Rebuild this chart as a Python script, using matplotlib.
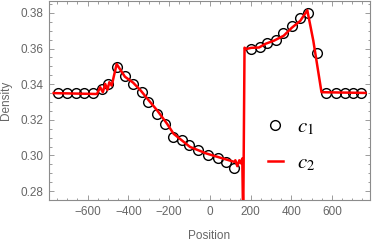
import matplotlib
matplotlib.use("Agg")
import matplotlib.pyplot as plt
from matplotlib.ticker import MultipleLocator
from matplotlib.lines import Line2D

plt.rcParams['font.family'] = ['Liberation Sans', 'DejaVu Sans']
plt.rcParams['mathtext.fontset'] = 'stix'

# c1: sampled circles (position, density)
c1_x = [-745.5, -703.3, -659.6, -619.4, -575.8, -530, -498, -457.6, -417, -377,
        -331.6, -304, -259, -221, -182, -138, -102, -57, -9, 39.7, 80.5, 120.7,
        161, 201.6, 246.7, 280.7, 324.3, 358.2, 401.8, 445.4, 481, 524.5,
        573, 618.5, 662, 702.4, 742.6]
c1_y = [0.335, 0.335, 0.335, 0.335, 0.335, 0.3374, 0.3402, 0.3494, 0.3448, 0.3402,
        0.3355, 0.3299, 0.3234, 0.3179, 0.3104, 0.3085, 0.3057, 0.3029, 0.3001, 0.2983,
        0.2964, 0.2927, 0.27, 0.3597, 0.3606, 0.3629, 0.3649, 0.3687, 0.3727, 0.377,
        0.3798, 0.3573, 0.3351, 0.3351, 0.3351, 0.3351, 0.3351]

# c2: fine-resolution profile
c2_x = [-767, -554.5, -538.5, -525.5, -514, -503, -493.5, -482, -457.6, -417, -377,
        -339, -299, -258.6, -210, -178, -97.4, -16.5, 64, 120.7, 125.5, 135, 145,
        152, 159.5, 164, 170.6, 177.4, 203, 242, 274, 314.6, 363, 402, 444, 479,
        508.5, 548.7, 765]
c2_y = [0.335, 0.3345, 0.3383, 0.3355, 0.3402, 0.3368, 0.3411, 0.3392, 0.3513, 0.3442,
        0.3409, 0.3364, 0.3308, 0.3253, 0.3178, 0.3122, 0.3048, 0.3011, 0.2983, 0.2964,
        0.2973, 0.2940, 0.2973, 0.2956, 0.2983, 0.262, 0.3605, 0.3597, 0.3604, 0.3606,
        0.3627, 0.3644, 0.3672, 0.3716, 0.3755, 0.3815, 0.3644, 0.3355, 0.3351]

x_ticks = [-600, -400, -200, 0, 200, 400, 600]
y_ticks = [0.28, 0.30, 0.32, 0.34, 0.36, 0.38]

fig = plt.figure(figsize=(3.74, 2.43), dpi=100)
ax = fig.add_axes([49/374, 1 - 200/243, 321/374, 199/243])

ax.plot(c1_x, c1_y, linestyle='none', marker='o', markersize=7,
        markerfacecolor='none', markeredgecolor='black', markeredgewidth=1.0,
        zorder=2)
ax.plot(c2_x, c2_y, color='#ff0000', linewidth=1.8, zorder=3)

ax.set_xlim(-790, 765 + 22)
ax.set_ylim(0.275, 0.3867)
ax.set_xticks(x_ticks)
ax.set_yticks(y_ticks)
ax.set_yticklabels([f"{v:.2f}" for v in y_ticks])
ax.xaxis.set_minor_locator(MultipleLocator(50))
ax.yaxis.set_minor_locator(MultipleLocator(0.005))

gray = '#8c8c8c'
for s in ax.spines.values():
    s.set_color(gray)
    s.set_linewidth(0.8)
ax.tick_params(which='both', direction='in', top=True, right=True,
               color=gray, width=0.6, labelcolor='#666666', labelsize=8.5)
ax.tick_params(which='major', length=3.5, pad=4)
ax.tick_params(which='minor', length=1.8)

ax.set_xlabel('Position', color='#666666', fontsize=8.5)
ax.set_ylabel('Density', color='#666666', fontsize=8.5)
ax.xaxis.set_label_coords(0.5, -0.15)
ax.yaxis.set_label_coords(-0.115, 0.5)

handles = [Line2D([], [], linestyle='none', marker='o', markersize=7,
                  markerfacecolor='none', markeredgecolor='black', markeredgewidth=1.0),
           Line2D([], [], color='#ff0000', linewidth=1.8)]
leg = ax.legend(handles, [r'$c_1$', r'$c_2$'], loc='center left',
                bbox_to_anchor=(268/374, 1 - 145/243), bbox_transform=fig.transFigure,
                frameon=False, fontsize=15, handlelength=0.7, handletextpad=0.7,
                labelspacing=0.75, borderpad=0, borderaxespad=0)

fig.savefig('out.png', dpi=100)
